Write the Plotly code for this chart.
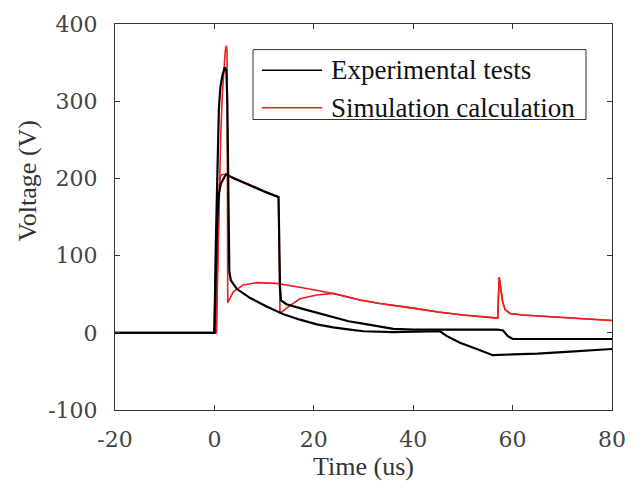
import plotly.graph_objects as go

# ---------------- data ----------------
# Experimental test, short pulse
exp_a_t = [-20, -10, 0, 0.3, 0.6, 0.9, 1.2, 1.6, 2.1, 2.4, 2.6, 2.8, 3.0, 3.3, 4.5, 7.2,
           10.5, 13.9, 17.2, 20.6, 23.9, 27.3, 30, 36, 45.4, 46.7, 49.4, 52.8, 56, 60,
           65, 70, 75, 80]
exp_a_v = [0, 0, 0, 120, 230, 290, 318, 333, 344, 340, 300, 150, 80, 68, 57, 45,
           34, 24, 17, 11, 7, 4, 2, 1, 2, -4, -13, -21, -29, -28,
           -27, -25, -23, -21]

# Experimental test, long pulse
exp_b_t = [-20, -10, 0, 0.3, 0.6, 0.9, 1.3, 1.7, 2.3, 4, 6, 8, 10, 12, 12.9, 13.05, 13.2,
           13.4, 14.5, 17.2, 20.6, 23.9, 27, 29.3, 33.3, 36, 40, 45, 50, 55, 57, 58.1,
           59, 60, 65, 70, 80]
exp_b_v = [0, 0, 0, 80, 150, 180, 193, 198, 205, 200, 194, 189, 183, 178, 176, 120, 60,
           42, 37, 32, 26, 21, 15, 12.6, 8, 5, 4, 4, 4, 4, 4, 3,
           -4, -8, -8, -8, -8]

# Simulation, short pulse
sim_a_t = [0, 0.4, 0.7, 1.0, 1.3, 1.6, 1.9, 2.2, 2.4, 2.55, 2.62, 2.68, 3.8, 5.8, 8.5, 12.5,
           17.2, 23.9, 29.3, 33.3, 40, 45, 50, 55, 57.0, 57.3, 57.6, 58.0, 58.5, 59.5,
           62, 70, 80]
sim_a_v = [0, 0, 100, 190, 260, 310, 345, 366, 372, 365, 200, 39, 53, 62, 65, 64,
           59, 51, 42.5, 38, 32, 27, 23, 20, 19, 72, 60, 40, 30, 25,
           23, 20, 16]

# Simulation, long pulse
sim_b_t = [0, 0.4, 0.7, 1.0, 1.2, 1.6, 2.3, 12.9, 13.05, 13.2, 14.5, 17.2, 20.6, 23.9,
           29.3, 33.3, 40, 45, 50, 55, 57.0, 57.3, 57.6, 58.0, 58.5, 59.5, 62, 70, 80]
sim_b_v = [0, 0, 100, 190, 203, 205, 205, 176, 100, 25, 32, 44, 49, 51,
           42.5, 38, 32, 27, 23, 20, 19, 72, 60, 40, 30, 25, 23, 20, 16]

x_ticks = [-20, 0, 20, 40, 60, 80]
x_tick_labels = ["-20", "0", "20", "40", "60", "80"]
y_ticks = [-100, 0, 100, 200, 300, 400]
y_tick_labels = ["-100", "0", "100", "200", "300", "400"]
legend_names = ["Experimental tests", "Simulation calculation"]

# ---------------- figure ----------------
W, H = 644, 487
L, R, T, B = 115, 32, 18, 77
PW, PH = W - L - R, H - T - B

def px(x):
    return (x - L) / PW

def py(y):
    return (H - B - y) / PH

RED = "#ee1c1c"
BLACK = "#000000"

fig = go.Figure()
fig.add_trace(go.Scatter(x=sim_a_t, y=sim_a_v, mode="lines", name=legend_names[1],
                         line=dict(color=RED, width=1.6), showlegend=False))
fig.add_trace(go.Scatter(x=sim_b_t, y=sim_b_v, mode="lines", name=legend_names[1],
                         line=dict(color=RED, width=1.6), showlegend=False))
fig.add_trace(go.Scatter(x=exp_a_t, y=exp_a_v, mode="lines", name=legend_names[0],
                         line=dict(color=BLACK, width=2.2), showlegend=False))
fig.add_trace(go.Scatter(x=exp_b_t, y=exp_b_v, mode="lines", name=legend_names[0],
                         line=dict(color=BLACK, width=2.2), showlegend=False))

axis_common = dict(
    showgrid=False, zeroline=False, showline=True, linecolor="#333333", linewidth=1,
    mirror="all", ticks="inside", ticklen=5, tickcolor="#333333",
    tickfont=dict(family="DejaVu Serif", size=22, color="#444444"),
)

fig.update_layout(
    width=W, height=H,
    margin=dict(l=L, r=R, t=T, b=B),
    paper_bgcolor="white", plot_bgcolor="white",
    showlegend=False,
    xaxis=dict(range=[-20, 80], tickvals=x_ticks, ticktext=x_tick_labels,
               ticklabelstandoff=10,
               title=dict(text="Time (us)", standoff=4,
                          font=dict(family="Liberation Serif", size=26, color="#333333")),
               **axis_common),
    yaxis=dict(range=[-100, 400], tickvals=y_ticks, ticktext=y_tick_labels,
               ticklabelstandoff=12, **axis_common),
)

# y-axis title (placed as in the reference, slightly above centre)
fig.add_annotation(text="Voltage (V)", xref="paper", yref="paper", x=px(28), y=py(177),
                   showarrow=False, textangle=-90, xanchor="center", yanchor="middle",
                   font=dict(family="Liberation Serif", size=26, color="#333333"))

# legend box drawn to match the reference's long line samples
fig.add_shape(type="rect", xref="paper", yref="paper",
              x0=px(253), x1=px(586), y0=py(115), y1=py(44),
              line=dict(color="#333333", width=1), fillcolor="white", layer="above")
rows = [65, 103]
colors = [BLACK, RED]
for name, c, ry in zip(legend_names, colors, rows):
    fig.add_shape(type="line", xref="paper", yref="paper",
                  x0=px(262), x1=px(322), y0=py(ry), y1=py(ry),
                  line=dict(color=c, width=1.5), layer="above")
    fig.add_annotation(text=name, xref="paper", yref="paper", x=px(329), y=py(ry),
                       showarrow=False, xanchor="left", yanchor="middle",
                       font=dict(family="Liberation Serif", size=27, color="#111111"))

fig.write_html("out.html")
